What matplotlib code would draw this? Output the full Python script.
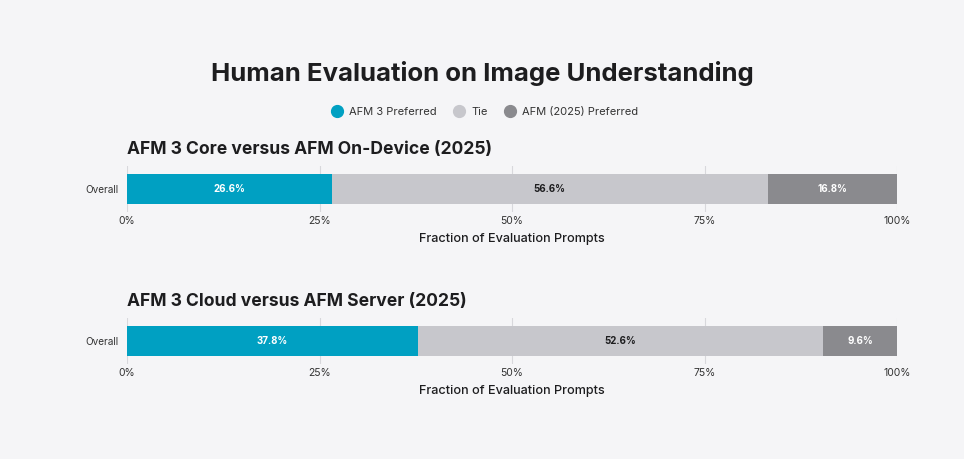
import matplotlib.pyplot as plt

plt.rcParams['font.family'] = ['Inter', 'DejaVu Sans']

# data
series = ["AFM 3 Preferred", "Tie", "AFM (2025) Preferred"]
colors = ["#00a0c2", "#c7c7cc", "#8a8a8e"]
text_colors = ["white", "#1d1d1f", "white"]
categories = ["Overall"]
panel_titles = ["AFM 3 Core versus AFM On-Device (2025)",
                "AFM 3 Cloud versus AFM Server (2025)"]
core_values = [26.6, 56.6, 16.8]
cloud_values = [37.8, 52.6, 9.6]
ticks = [0, 25, 50, 75, 100]
tick_labels = ["0%", "25%", "50%", "75%", "100%"]

bg = "#f5f5f7"
fig = plt.figure(figsize=(9.64, 4.59), dpi=100, facecolor=bg)

fig.text(0.5, 1 - 73 / 459, "Human Evaluation on Image Understanding",
         ha="center", va="center", fontsize=18.5, fontweight="bold", color="#1d1d1f")

# legend
handles = [plt.Line2D([], [], marker="o", linestyle="none", markersize=8.5,
                      markerfacecolor=c, markeredgecolor=c) for c in colors]
fig.legend(handles, series, loc="center", bbox_to_anchor=(0.5, 1 - 112 / 459),
           ncol=3, frameon=False, fontsize=8.0, handletextpad=0.1, columnspacing=1.0,
           labelcolor="#333333")


def draw_panel(bottom_px, values, title):
    left = 127 / 964
    width = (897 - 127) / 964
    top_px = bottom_px - 46
    ax = fig.add_axes([left, 1 - bottom_px / 459, width, 46 / 459])
    ax.set_facecolor(bg)
    for t in ticks:
        ax.axvline(t, color="#d8d8dc", linewidth=0.8, zorder=0)
    start = 0
    for v, c, tc in zip(values, colors, text_colors):
        ax.barh(categories, [v], left=start, height=0.652, color=c, zorder=2)
        ax.text(start + v / 2, 0, f"{v}%", ha="center", va="center",
                fontsize=7, fontweight="bold", color=tc, zorder=3)
        start += v
    ax.set_xlim(0, 100)
    ax.set_ylim(-0.5, 0.5)
    ax.set_xticks(ticks)
    ax.set_xticklabels(tick_labels)
    ax.tick_params(axis="both", length=0, labelsize=7.5, colors="#333333")
    ax.tick_params(axis="x", pad=3)
    ax.tick_params(axis="y", pad=6, labelsize=7.2)
    for s in ax.spines.values():
        s.set_visible(False)
    ax.set_xlabel("Fraction of Evaluation Prompts", fontsize=9.1, fontweight="medium",
                  color="#1d1d1f", labelpad=5)
    fig.text(left, 1 - (top_px - 17) / 459, title, ha="left", va="center",
             fontsize=12.6, fontweight="bold", color="#1d1d1f")


draw_panel(212, core_values, panel_titles[0])
draw_panel(364, cloud_values, panel_titles[1])

fig.savefig("out.png", dpi=100, facecolor=bg)
